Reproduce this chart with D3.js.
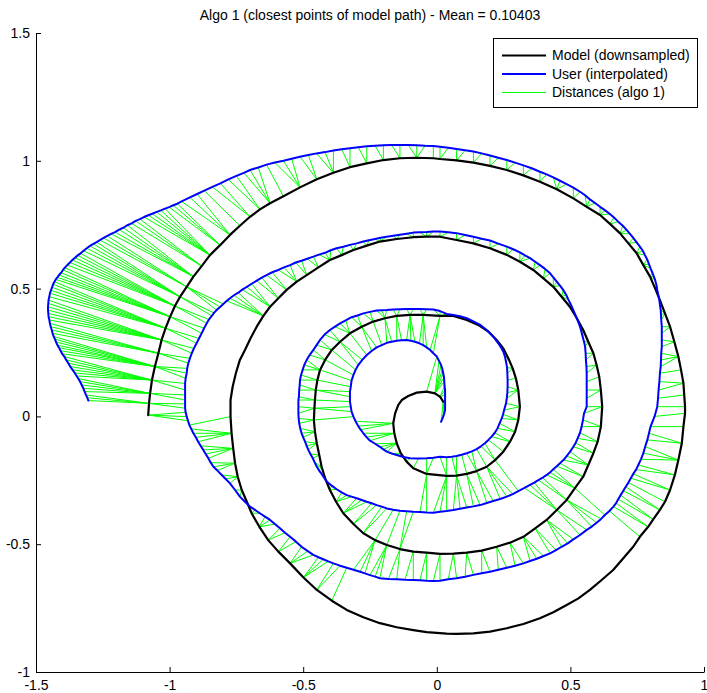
<!DOCTYPE html>
<html>
<head>
<meta charset="utf-8">
<script src="https://cdn.jsdelivr.net/npm/d3@7"></script>
<style>
  html, body { margin: 0; padding: 0; background: #fff; }
  svg { display: block; }
  text { font-family: "Liberation Sans", Arial, Helvetica, sans-serif; }
</style>
</head>
<body>
<svg id="chart" width="707" height="693"></svg>
<script>
// ---- data -------------------------------------------------------------
const titleText = "Algo 1 (closest points of model path) - Mean = 0.10403";
const legendLabels = ["Model (downsampled)", "User (interpolated)", "Distances (algo 1)"];
const xTicks = [-1.5, -1, -0.5, 0, 0.5, 1];
const yTicks = [-1, -0.5, 0, 0.5, 1, 1.5];

// model spiral (downsampled), one array per turn, [x, y]
const modelTurn1 = [
  [-1.080,0.005],[-1.077,0.051],[-1.073,0.090],[-1.066,0.142],[-1.055,0.195],[-1.042,0.247],
  [-1.030,0.299],[-1.015,0.345],[-0.998,0.390],[-0.980,0.432],[-0.961,0.468],[-0.936,0.507],
  [-0.911,0.547],[-0.880,0.588],[-0.849,0.631],[-0.811,0.670],[-0.774,0.710],[-0.737,0.746],
  [-0.699,0.781],[-0.662,0.810],[-0.624,0.834],[-0.574,0.861],[-0.512,0.896],[-0.449,0.928],
  [-0.387,0.953],[-0.325,0.975],[-0.262,0.990],[-0.200,1.003],[-0.138,1.010],[-0.075,1.012],
  [-0.013,1.010],[0.012,1.007],[0.074,1.002],[0.137,0.993],[0.199,0.980],[0.262,0.964],
  [0.324,0.943],[0.386,0.918],[0.449,0.889],[0.511,0.853],[0.561,0.820],[0.611,0.788],
  [0.648,0.753],[0.686,0.716],[0.717,0.677],[0.748,0.638],[0.773,0.592],[0.798,0.547],
  [0.817,0.501],[0.835,0.455],[0.854,0.403],[0.873,0.351],[0.889,0.292],[0.904,0.234],
  [0.914,0.182],[0.923,0.130],[0.926,0.084],[0.929,0.038],[0.929,0.012],[0.923,-0.040],
  [0.917,-0.105],[0.904,-0.171],[0.891,-0.229],[0.873,-0.288],[0.854,-0.334],[0.835,-0.366],
  [0.810,-0.403],[0.791,-0.432],[0.760,-0.471],[0.735,-0.510],[0.698,-0.555],[0.660,-0.601],
  [0.617,-0.640],[0.573,-0.679],[0.530,-0.712],[0.486,-0.738],[0.436,-0.766],[0.386,-0.790],
  [0.324,-0.812],[0.262,-0.829],[0.199,-0.842],[0.137,-0.849],[0.074,-0.851],[0.037,-0.850],
  [-0.038,-0.844],[-0.088,-0.836],[-0.150,-0.825],[-0.213,-0.809],[-0.275,-0.786],[-0.337,-0.757],
  [-0.393,-0.721],[-0.449,-0.679],[-0.499,-0.630],[-0.549,-0.575],[-0.593,-0.529],[-0.631,-0.484],
  [-0.664,-0.432],[-0.693,-0.379],[-0.711,-0.334],[-0.730,-0.288],[-0.745,-0.236],[-0.755,-0.183],
  [-0.762,-0.125],[-0.768,-0.066],[-0.772,-0.001],[-0.772,0.064]
];
const modelTurn2 = [
  [-0.764,0.116],[-0.752,0.169],[-0.737,0.221],[-0.718,0.260],[-0.697,0.306],[-0.674,0.351],
  [-0.649,0.393],[-0.624,0.429],[-0.593,0.462],[-0.562,0.495],[-0.524,0.527],[-0.487,0.553],
  [-0.443,0.583],[-0.400,0.612],[-0.356,0.631],[-0.312,0.651],[-0.262,0.668],[-0.213,0.684],
  [-0.150,0.694],[-0.088,0.701],[-0.038,0.703],[0.012,0.703],[0.074,0.690],[0.137,0.677],
  [0.199,0.658],[0.262,0.632],[0.311,0.605],[0.361,0.573],[0.399,0.540],[0.436,0.507],
  [0.467,0.468],[0.498,0.429],[0.524,0.384],[0.548,0.338],[0.567,0.292],[0.586,0.247],
  [0.598,0.201],[0.608,0.155],[0.614,0.103],[0.619,0.038],[0.614,-0.040],[0.602,-0.099],
  [0.586,-0.144],[0.567,-0.190],[0.548,-0.236],[0.517,-0.281],[0.486,-0.327],[0.449,-0.366],
  [0.411,-0.405],[0.368,-0.438],[0.324,-0.471],[0.274,-0.494],[0.224,-0.510],[0.168,-0.525],
  [0.112,-0.533],[0.062,-0.537],[0.012,-0.538],[-0.038,-0.533],[-0.088,-0.529],[-0.138,-0.519],
  [-0.187,-0.503],[-0.231,-0.484],[-0.275,-0.457],[-0.312,-0.421],[-0.350,-0.379],[-0.377,-0.334],
  [-0.400,-0.288],[-0.418,-0.242],[-0.431,-0.197],[-0.440,-0.151],[-0.449,-0.105],[-0.456,-0.060],
  [-0.460,-0.014],[-0.458,0.032],[-0.456,0.064]
];
const modelTurn3 = [
  [-0.453,0.103],[-0.447,0.142],[-0.437,0.182],[-0.418,0.221],[-0.393,0.260],[-0.362,0.292],
  [-0.325,0.325],[-0.281,0.351],[-0.238,0.371],[-0.194,0.384],[-0.150,0.393],[-0.100,0.397],
  [-0.051,0.397],[0.012,0.393],[0.062,0.393],[0.112,0.377],[0.155,0.358],[0.193,0.332],
  [0.224,0.299],[0.249,0.266],[0.268,0.227],[0.284,0.188],[0.296,0.149],[0.305,0.103],
  [0.311,0.038],[0.305,-0.014],[0.293,-0.060],[0.274,-0.099],[0.249,-0.138],[0.218,-0.171],
  [0.187,-0.197],[0.149,-0.214],[0.112,-0.225],[0.074,-0.232],[0.037,-0.233]
];
const modelCore = [
  [-0.038,-0.225],[-0.088,-0.203],[-0.113,-0.177],[-0.135,-0.144],[-0.150,-0.105],[-0.159,-0.066],
  [-0.163,-0.027],[-0.156,0.012],[-0.144,0.045],[-0.131,0.064],[-0.107,0.080],[-0.075,0.093],
  [-0.038,0.097],[-0.007,0.090],[0.012,0.077],[0.024,0.058]
];

// user trace, one array per turn, [x, y]
const userTurn1 = [
  [-1.304,0.062],[-1.308,0.073],[-1.313,0.084],[-1.318,0.097],[-1.323,0.110],[-1.329,0.123],
  [-1.335,0.136],[-1.342,0.148],[-1.348,0.158],[-1.355,0.170],[-1.363,0.182],[-1.372,0.195],
  [-1.379,0.208],[-1.387,0.221],[-1.394,0.234],[-1.402,0.245],[-1.408,0.257],[-1.414,0.269],
  [-1.420,0.279],[-1.425,0.291],[-1.429,0.302],[-1.434,0.313],[-1.438,0.325],[-1.441,0.338],
  [-1.445,0.351],[-1.448,0.364],[-1.450,0.377],[-1.453,0.390],[-1.454,0.403],[-1.455,0.416],
  [-1.455,0.429],[-1.454,0.442],[-1.453,0.455],[-1.450,0.468],[-1.448,0.482],[-1.444,0.493],
  [-1.440,0.505],[-1.436,0.517],[-1.431,0.527],[-1.426,0.536],[-1.420,0.544],[-1.414,0.553],
  [-1.406,0.562],[-1.399,0.573],[-1.392,0.582],[-1.383,0.592],[-1.373,0.602],[-1.364,0.612],
  [-1.354,0.621],[-1.344,0.630],[-1.333,0.638],[-1.322,0.648],[-1.310,0.658],[-1.298,0.667],
  [-1.285,0.675],[-1.273,0.682],[-1.261,0.690],[-1.247,0.698],[-1.233,0.706],[-1.219,0.714],
  [-1.204,0.721],[-1.189,0.731],[-1.173,0.738],[-1.158,0.748],[-1.142,0.755],[-1.127,0.765],
  [-1.111,0.772],[-1.096,0.780],[-1.080,0.787],[-1.065,0.793],[-1.048,0.800],[-1.033,0.806],
  [-1.017,0.813],[-1.002,0.819],[-0.986,0.826],[-0.971,0.832],[-0.955,0.841],[-0.924,0.857],
  [-0.897,0.870],[-0.870,0.883],[-0.840,0.898],[-0.810,0.912],[-0.780,0.927],[-0.750,0.941],
  [-0.722,0.953],[-0.699,0.964],[-0.668,0.974],[-0.637,0.985],[-0.606,0.993],[-0.574,1.000],
  [-0.543,1.008],[-0.512,1.016],[-0.481,1.023],[-0.450,1.029],[-0.418,1.034],[-0.387,1.040],
  [-0.356,1.045],[-0.325,1.049],[-0.294,1.053],[-0.262,1.057],[-0.231,1.059],[-0.200,1.061],
  [-0.169,1.062],[-0.138,1.062],[-0.107,1.062],[-0.075,1.061],[-0.044,1.059],[-0.013,1.058],
  [0.012,1.055],[0.043,1.051],[0.074,1.046],[0.106,1.041],[0.137,1.036],[0.168,1.029],
  [0.199,1.021],[0.230,1.012],[0.262,1.003],[0.293,0.993],[0.324,0.982],[0.355,0.971],
  [0.386,0.957],[0.411,0.947],[0.436,0.935],[0.461,0.922],[0.486,0.909],[0.511,0.895],
  [0.536,0.879],[0.555,0.865],[0.573,0.849],[0.592,0.835],[0.611,0.820],[0.630,0.806],
  [0.648,0.792],[0.663,0.778],[0.679,0.762],[0.696,0.746],[0.711,0.729],[0.723,0.714],
  [0.736,0.697],[0.748,0.681],[0.760,0.664],[0.771,0.648],[0.779,0.631],[0.787,0.615],
  [0.794,0.596],[0.800,0.579],[0.807,0.562],[0.812,0.548],[0.817,0.534],[0.822,0.514],
  [0.825,0.495],[0.829,0.475],[0.833,0.455],[0.835,0.436],[0.838,0.416],[0.839,0.397],
  [0.840,0.377],[0.842,0.351],[0.842,0.325],[0.842,0.299],[0.842,0.273],[0.840,0.247],
  [0.839,0.221],[0.838,0.195],[0.835,0.169],[0.833,0.136],[0.830,0.103],[0.828,0.071],
  [0.825,0.038],[0.815,0.000],[0.800,-0.040],[0.794,-0.066],[0.788,-0.092],[0.780,-0.118],
  [0.773,-0.144],[0.764,-0.168],[0.754,-0.190],[0.746,-0.208],[0.735,-0.225],[0.726,-0.242],
  [0.717,-0.259],[0.707,-0.275],[0.698,-0.291],[0.688,-0.308],[0.679,-0.324],[0.671,-0.339],
  [0.661,-0.353],[0.646,-0.370],[0.629,-0.386],[0.615,-0.401],[0.598,-0.416],[0.580,-0.431],
  [0.561,-0.444],[0.536,-0.464],[0.511,-0.481],[0.490,-0.497],[0.467,-0.510],[0.446,-0.523],
  [0.424,-0.536],[0.399,-0.546],[0.374,-0.557],[0.349,-0.566],[0.324,-0.575],[0.293,-0.584],
  [0.262,-0.592],[0.230,-0.600],[0.199,-0.608],[0.168,-0.614],[0.137,-0.620],[0.106,-0.627],
  [0.074,-0.633],[0.043,-0.637],[0.012,-0.643],[-0.013,-0.644],[-0.038,-0.643],[-0.063,-0.641],
  [-0.088,-0.640],[-0.119,-0.639],[-0.150,-0.637],[-0.181,-0.636],[-0.213,-0.633],[-0.231,-0.627],
  [-0.250,-0.621],[-0.269,-0.614],[-0.287,-0.608],[-0.312,-0.600],[-0.337,-0.592],[-0.362,-0.584],
  [-0.387,-0.575],[-0.406,-0.567],[-0.425,-0.559],[-0.443,-0.551],[-0.462,-0.542],[-0.483,-0.527],
  [-0.506,-0.510],[-0.527,-0.490],[-0.549,-0.471],[-0.568,-0.455],[-0.587,-0.438],[-0.606,-0.421],
  [-0.624,-0.405],[-0.643,-0.392],[-0.662,-0.379],[-0.680,-0.366],[-0.699,-0.353],[-0.718,-0.334],
  [-0.737,-0.314],[-0.755,-0.288],[-0.774,-0.262],[-0.790,-0.245],[-0.805,-0.229],[-0.821,-0.212],
  [-0.836,-0.197],[-0.846,-0.181],[-0.855,-0.164],[-0.865,-0.147],[-0.874,-0.131],[-0.884,-0.115],
  [-0.893,-0.099],[-0.902,-0.082],[-0.911,-0.066],[-0.919,-0.049],[-0.926,-0.034],[-0.931,-0.017],
  [-0.936,-0.001],[-0.940,0.016],[-0.942,0.032],[-0.942,0.049],[-0.942,0.064]
];
const userTurn2 = [
  [-0.942,0.084],[-0.942,0.103],[-0.942,0.129],[-0.940,0.149],[-0.936,0.169],[-0.934,0.188],
  [-0.930,0.208],[-0.924,0.227],[-0.917,0.247],[-0.909,0.266],[-0.899,0.286],[-0.890,0.305],
  [-0.880,0.325],[-0.871,0.345],[-0.861,0.364],[-0.853,0.379],[-0.842,0.393],[-0.834,0.405],
  [-0.824,0.416],[-0.811,0.428],[-0.799,0.440],[-0.786,0.452],[-0.774,0.462],[-0.759,0.474],
  [-0.743,0.484],[-0.728,0.496],[-0.711,0.507],[-0.693,0.519],[-0.674,0.531],[-0.655,0.543],
  [-0.637,0.553],[-0.616,0.564],[-0.593,0.573],[-0.572,0.583],[-0.549,0.592],[-0.528,0.602],
  [-0.506,0.609],[-0.485,0.617],[-0.462,0.625],[-0.441,0.633],[-0.418,0.640],[-0.397,0.650],
  [-0.375,0.658],[-0.350,0.664],[-0.325,0.671],[-0.300,0.677],[-0.275,0.684],[-0.254,0.689],
  [-0.231,0.694],[-0.210,0.699],[-0.188,0.703],[-0.163,0.707],[-0.138,0.711],[-0.113,0.715],
  [-0.088,0.719],[-0.063,0.720],[-0.038,0.721],[-0.013,0.723],[0.012,0.723],[0.043,0.720],
  [0.074,0.717],[0.106,0.710],[0.137,0.703],[0.168,0.695],[0.199,0.688],[0.230,0.676],
  [0.262,0.664],[0.286,0.654],[0.311,0.642],[0.330,0.630],[0.349,0.619],[0.368,0.605],
  [0.386,0.592],[0.405,0.577],[0.424,0.560],[0.436,0.544],[0.449,0.527],[0.461,0.512],
  [0.473,0.495],[0.484,0.476],[0.492,0.458],[0.502,0.437],[0.511,0.416],[0.517,0.401],
  [0.524,0.384],[0.530,0.368],[0.536,0.351],[0.541,0.332],[0.546,0.312],[0.551,0.292],
  [0.555,0.273],[0.557,0.247],[0.558,0.221],[0.560,0.195],[0.561,0.169],[0.561,0.136],
  [0.561,0.103],[0.561,0.071],[0.561,0.038],[0.551,0.012],[0.547,-0.014],[0.542,-0.040],
  [0.536,-0.064],[0.527,-0.086],[0.520,-0.103],[0.511,-0.119],[0.499,-0.138],[0.486,-0.155],
  [0.474,-0.171],[0.461,-0.183],[0.449,-0.195],[0.436,-0.207],[0.424,-0.219],[0.411,-0.229],
  [0.396,-0.240],[0.380,-0.249],[0.365,-0.259],[0.349,-0.268],[0.328,-0.280],[0.305,-0.292],
  [0.284,-0.304],[0.262,-0.314],[0.237,-0.323],[0.211,-0.331],[0.187,-0.339],[0.162,-0.347],
  [0.137,-0.352],[0.112,-0.356],[0.087,-0.361],[0.062,-0.366],[0.037,-0.370],[0.012,-0.373],
  [-0.013,-0.377],[-0.038,-0.376],[-0.063,-0.374],[-0.088,-0.373],[-0.113,-0.371],[-0.138,-0.369],
  [-0.163,-0.365],[-0.187,-0.360],[-0.206,-0.353],[-0.225,-0.347],[-0.244,-0.340],[-0.262,-0.334],
  [-0.281,-0.327],[-0.300,-0.320],[-0.319,-0.314],[-0.337,-0.308],[-0.356,-0.297],[-0.375,-0.285],
  [-0.393,-0.271],[-0.412,-0.255],[-0.422,-0.240],[-0.431,-0.225],[-0.441,-0.211],[-0.449,-0.197],
  [-0.457,-0.180],[-0.464,-0.164],[-0.473,-0.147],[-0.481,-0.131],[-0.487,-0.115],[-0.493,-0.099],
  [-0.500,-0.082],[-0.506,-0.066],[-0.511,-0.047],[-0.515,-0.027],[-0.517,-0.008],[-0.518,0.012],
  [-0.518,0.038],[-0.518,0.064]
];
const userTurn3 = [
  [-0.516,0.077],[-0.515,0.103],[-0.513,0.123],[-0.512,0.142],[-0.508,0.162],[-0.502,0.182],
  [-0.496,0.201],[-0.487,0.221],[-0.476,0.240],[-0.462,0.260],[-0.450,0.279],[-0.437,0.299],
  [-0.420,0.320],[-0.400,0.338],[-0.381,0.351],[-0.362,0.364],[-0.341,0.376],[-0.319,0.388],
  [-0.297,0.395],[-0.275,0.403],[-0.250,0.409],[-0.225,0.414],[-0.206,0.415],[-0.188,0.416],
  [-0.163,0.418],[-0.138,0.419],[-0.113,0.420],[-0.088,0.420],[-0.063,0.420],[-0.038,0.419],
  [-0.013,0.418],[0.012,0.412],[0.037,0.401],[0.062,0.397],[0.087,0.392],[0.112,0.384],
  [0.137,0.372],[0.162,0.358],[0.182,0.342],[0.199,0.325],[0.215,0.307],[0.230,0.286],
  [0.240,0.270],[0.249,0.253],[0.255,0.234],[0.259,0.214],[0.263,0.191],[0.264,0.169],
  [0.265,0.142],[0.265,0.116],[0.264,0.093],[0.262,0.071],[0.259,0.051],[0.252,0.025],
  [0.248,0.008],[0.243,-0.008],[0.235,-0.027],[0.227,-0.047],[0.217,-0.064],[0.205,-0.079],
  [0.193,-0.092],[0.180,-0.105],[0.165,-0.117],[0.149,-0.128],[0.131,-0.137],[0.112,-0.144],
  [0.093,-0.150],[0.074,-0.155],[0.056,-0.158],[0.037,-0.160]
];
const userCore = [
  [0.012,-0.158],[-0.013,-0.162],[-0.038,-0.164],[-0.069,-0.165],[-0.100,-0.164],[-0.125,-0.159],
  [-0.150,-0.151],[-0.169,-0.145],[-0.187,-0.138],[-0.200,-0.129],[-0.213,-0.119],[-0.231,-0.107],
  [-0.250,-0.095],[-0.263,-0.081],[-0.275,-0.066],[-0.285,-0.052],[-0.294,-0.038],[-0.304,-0.019],
  [-0.312,-0.001],[-0.319,0.019],[-0.322,0.038],[-0.325,0.058],[-0.325,0.077],[-0.325,0.097],
  [-0.322,0.116],[-0.319,0.140],[-0.312,0.162],[-0.304,0.182],[-0.294,0.201],[-0.279,0.221],
  [-0.262,0.240],[-0.244,0.256],[-0.225,0.270],[-0.206,0.279],[-0.187,0.288],[-0.169,0.292],
  [-0.150,0.296],[-0.132,0.298],[-0.113,0.299],[-0.097,0.296],[-0.082,0.292],[-0.065,0.286],
  [-0.051,0.279],[-0.038,0.270],[-0.025,0.260],[-0.013,0.247],[0.000,0.234],[0.008,0.218],
  [0.016,0.201],[0.021,0.185],[0.024,0.169],[0.027,0.153],[0.028,0.136],[0.029,0.119],
  [0.031,0.103],[0.031,0.084],[0.031,0.064],[0.031,0.045],[0.031,0.025],[0.028,0.012],
  [0.024,-0.001],[0.016,-0.021]
];

const modelPath = [...modelTurn1, ...modelTurn2, ...modelTurn3, ...modelCore];
const userPath = [...userTurn1, ...userTurn2, ...userTurn3, ...userCore];

// ---- layout -----------------------------------------------------------
const svg = d3.select("#chart");
const FONT = '"Liberation Sans", Arial, Helvetica, sans-serif';

const x = d3.scaleLinear().domain([-1.5, 1]).range([36, 704]);
const y = d3.scaleLinear().domain([-1, 1.5]).range([672, 33]);

svg.append("rect").attr("width", 707).attr("height", 693).attr("fill", "#fff");

// algo 1: each user sample is joined to the closest vertex of the model path
const links = userPath.map(u => {
  let best = modelPath[0], bestD = Infinity;
  for (const m of modelPath) {
    const dx = u[0] - m[0], dy = u[1] - m[1];
    const d = dx * dx + dy * dy;
    if (d < bestD) { bestD = d; best = m; }
  }
  return { u, m: best };
});

svg.append("g")
  .selectAll("line")
  .data(links)
  .join("line")
  .attr("x1", d => x(d.u[0])).attr("y1", d => y(d.u[1]))
  .attr("x2", d => x(d.m[0])).attr("y2", d => y(d.m[1]))
  .attr("stroke", "#00ff00")
  .attr("stroke-width", 1);

const line = d3.line().x(d => x(d[0])).y(d => y(d[1]));

svg.append("path")
  .datum(modelPath)
  .attr("d", line)
  .attr("fill", "none")
  .attr("stroke", "#000")
  .attr("stroke-width", 2.2)
  .attr("stroke-linejoin", "round")
  .attr("stroke-linecap", "round");

svg.append("path")
  .datum(userPath)
  .attr("d", line)
  .attr("fill", "none")
  .attr("stroke", "#0000ff")
  .attr("stroke-width", 2)
  .attr("stroke-linejoin", "round")
  .attr("stroke-linecap", "round");

// ---- axes (left and bottom, ticks pointing inward) --------------------
const fmt = v => String(v);

const gx = svg.append("g")
  .attr("transform", `translate(0,${y(-1)})`)
  .call(d3.axisBottom(x).tickValues(xTicks).tickFormat(fmt)
    .tickSize(-5).tickSizeOuter(0).tickPadding(8));

const gy = svg.append("g")
  .attr("transform", `translate(${x(-1.5)},0)`)
  .call(d3.axisLeft(y).tickValues(yTicks).tickFormat(fmt)
    .tickSize(-5).tickSizeOuter(0).tickPadding(6));

for (const g of [gx, gy]) {
  g.attr("font-family", FONT).attr("font-size", 14);
  g.select(".domain").attr("stroke", "#000").attr("stroke-width", 1);
  g.selectAll(".tick line").attr("stroke", "#000");
  g.selectAll(".tick text").attr("fill", "#000");
}

// ---- title ------------------------------------------------------------
svg.append("text")
  .attr("x", (x(-1.5) + x(1)) / 2)
  .attr("y", 20)
  .attr("text-anchor", "middle")
  .attr("font-family", FONT)
  .attr("font-size", 14)
  .attr("fill", "#000")
  .text(titleText);

// ---- legend -----------------------------------------------------------
const legendStyles = [
  { color: "#000", width: 2.2 },
  { color: "#0000ff", width: 2 },
  { color: "#00ff00", width: 1 }
];
const legend = svg.append("g");
legend.append("rect")
  .attr("x", 493.5).attr("y", 38.5)
  .attr("width", 204).attr("height", 69)
  .attr("fill", "#fff").attr("stroke", "#000").attr("stroke-width", 1);

const rowY = [55.5, 74, 92.5];
legendLabels.forEach((label, i) => {
  legend.append("line")
    .attr("x1", 502).attr("x2", 546)
    .attr("y1", rowY[i]).attr("y2", rowY[i])
    .attr("stroke", legendStyles[i].color)
    .attr("stroke-width", legendStyles[i].width);
  legend.append("text")
    .attr("x", 552).attr("y", rowY[i])
    .attr("dy", "0.35em")
    .attr("font-family", FONT)
    .attr("font-size", 14)
    .attr("fill", "#000")
    .text(label);
});
</script>
</body>
</html>
